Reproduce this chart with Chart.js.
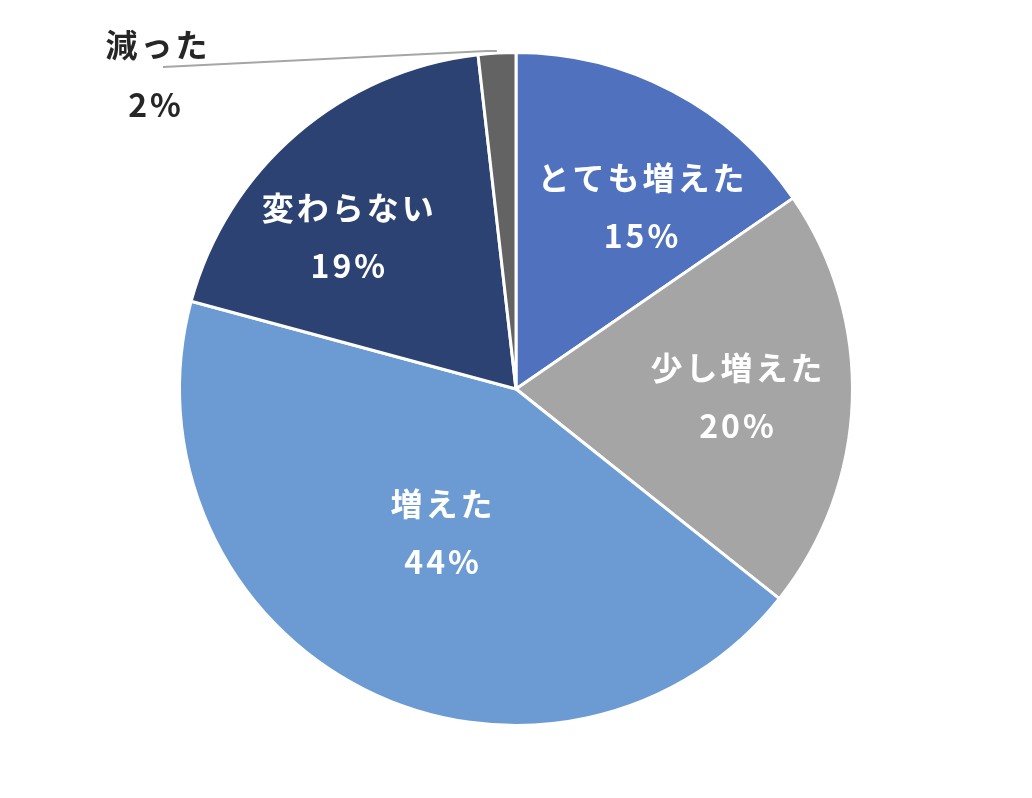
<!DOCTYPE html>
<html lang="ja">
<head>
<meta charset="utf-8">
<title>Pie chart</title>
<script src="https://cdn.jsdelivr.net/npm/chart.js@4.4.1/dist/chart.umd.min.js"></script>
<style>
    html, body { margin: 0; padding: 0; background: #ffffff; }
    #wrap { width: 1032px; height: 798px; position: relative; }
</style>
</head>
<body>
<div id="wrap"><canvas id="pie-chart"></canvas></div>
<script>
// Data (clockwise from 12 o'clock)
var categories = ['とても増えた', '少し増えた', '増えた', '変わらない', '減った'];
var shares = [15.4, 20.3, 43.5, 19.0, 1.8];
var sliceColors = ['#4f71be', '#a5a5a5', '#6b9bd2', '#2c4272', '#636363'];

var FONT = '"Noto Sans CJK JP", "Noto Sans", sans-serif';

// Draws the data labels: inside ones in white, the small slice outside with a leader line
var pieLabels = {
    id: 'pieLabels',
    afterDatasetsDraw: function(chart, args, opts) {
        var ctx = chart.ctx;
        var meta = chart.getDatasetMeta(0);
        var total = shares.reduce(function(a, b) { return a + b; }, 0);

        ctx.save();
        ctx.font = 'bold 32px ' + FONT;
        ctx.textAlign = 'center';
        ctx.textBaseline = 'middle';
        if ('letterSpacing' in ctx) ctx.letterSpacing = '3px';

        meta.data.forEach(function(arc, i) {
            var p = arc.getProps(['x', 'y', 'startAngle', 'endAngle', 'outerRadius'], true);
            var pct = Math.round(shares[i] / total * 100) + '%';
            var mid = (p.startAngle + p.endAngle) / 2;

            if (i < opts.inside.length) {
                var a = mid + (opts.shift[i] || 0) * Math.PI / 180;
                var r = p.outerRadius * opts.inside[i];
                var cx = p.x + Math.cos(a) * r;
                var cy = p.y + Math.sin(a) * r;
                ctx.fillStyle = '#ffffff';
                ctx.fillText(categories[i], cx, cy - opts.lineGap / 2);
                ctx.fillText(pct, cx, cy + opts.lineGap / 2);
            } else {
                // outside label with leader line
                var sx = p.x + Math.cos(mid) * (p.outerRadius + 2);
                var sy = p.y + Math.sin(mid) * (p.outerRadius + 2);
                var ex = opts.outside.x;
                var ey = opts.outside.y;
                ctx.strokeStyle = '#a6a6a6';
                ctx.lineWidth = 2;
                ctx.beginPath();
                ctx.moveTo(sx, sy);
                ctx.lineTo(sx - 10, sy);
                ctx.lineTo(ex, ey);
                ctx.stroke();
                ctx.fillStyle = '#262626';
                ctx.fillText(categories[i], ex - 5, ey - 22);
                ctx.fillText(pct, ex - 7, ey + 38);
            }
        });
        ctx.restore();
    }
};

var pieCtx = document.getElementById('pie-chart');
new Chart(pieCtx, {
    type: 'pie',
    data: {
        labels: categories,
        datasets: [{
            data: shares,
            backgroundColor: sliceColors,
            borderColor: '#ffffff',
            borderWidth: 3
        }]
    },
    options: {
        responsive: true,
        maintainAspectRatio: false,
        animation: false,
        layout: {
            padding: { top: 51, bottom: 71, left: 0, right: 0 }
        },
        plugins: {
            legend: { display: false },
            tooltip: { enabled: false },
            pieLabels: {
                inside: [0.66, 0.66, 0.48, 0.67],
                shift: [7, 0, 0, -7],
                lineGap: 58,
                outside: { x: 163, y: 67 }
            }
        }
    },
    plugins: [pieLabels]
});
</script>
</body>
</html>
